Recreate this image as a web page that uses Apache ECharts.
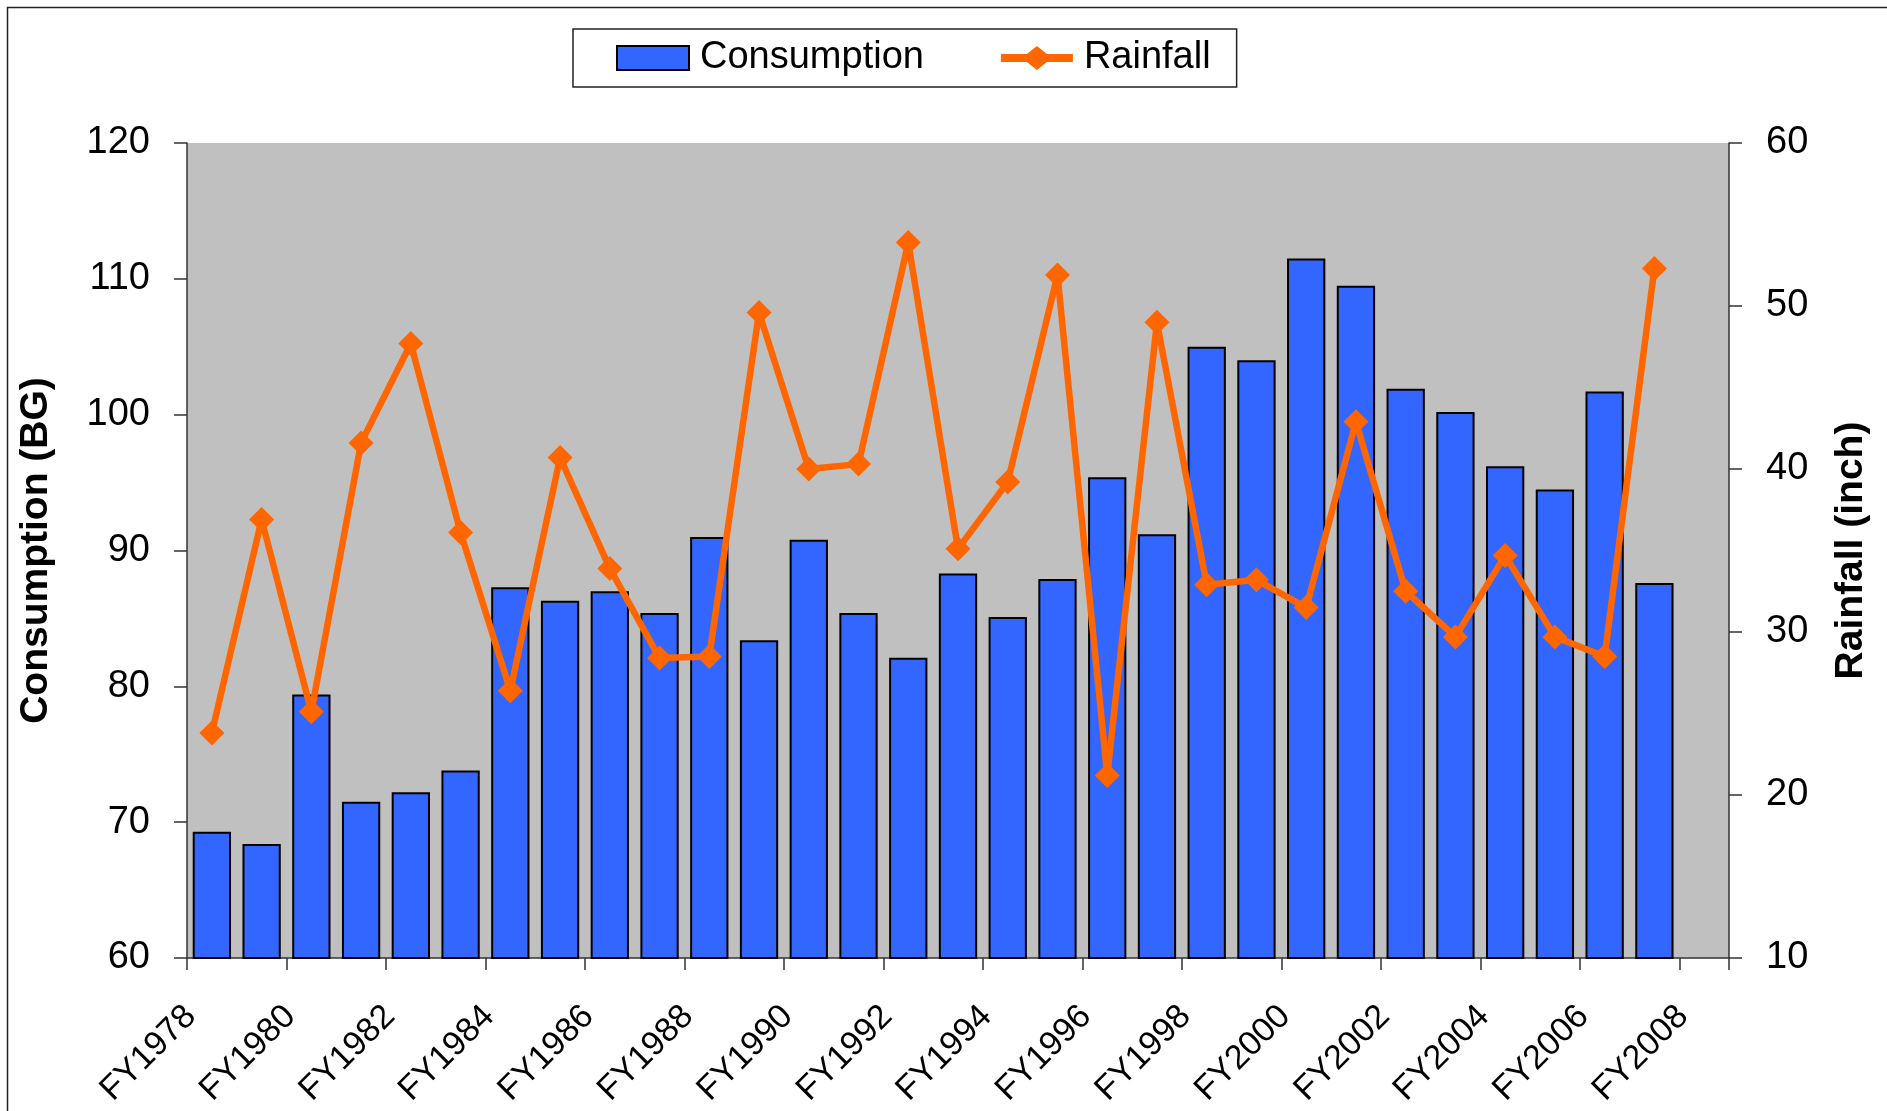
<!DOCTYPE html>
<html>
<head>
<meta charset="utf-8">
<script src="https://cdn.jsdelivr.net/npm/echarts@6/dist/echarts.min.js"></script>
<style>
  html, body { margin: 0; padding: 0; background: #fff; }
  #myChart { width: 1887px; height: 1111px; }
</style>
</head>
<body>
<div id="myChart"></div>
<script>
// fiscal years on the x axis (FY2008 slot is left empty in the original)
var years = ['FY1978', 'FY1979', 'FY1980', 'FY1981', 'FY1982', 'FY1983', 'FY1984', 'FY1985',
  'FY1986', 'FY1987', 'FY1988', 'FY1989', 'FY1990', 'FY1991', 'FY1992', 'FY1993', 'FY1994',
  'FY1995', 'FY1996', 'FY1997', 'FY1998', 'FY1999', 'FY2000', 'FY2001', 'FY2002', 'FY2003',
  'FY2004', 'FY2005', 'FY2006', 'FY2007', 'FY2008'];

// consumption, BG (left axis)
var consumption = [69.3, 68.4, 79.4, 71.5, 72.2, 73.8, 87.3, 86.3, 87.0, 85.4,
  91.0, 83.4, 90.8, 85.4, 82.1, 88.3, 85.1, 87.9, 95.4, 91.2,
  105.0, 104.0, 111.5, 109.5, 101.9, 100.2, 96.2, 94.5, 101.7, 87.6];

// rainfall, inch (right axis)
var rainfall = [23.8, 36.9, 25.1, 41.6, 47.7, 36.1, 26.4, 40.7, 33.9, 28.4,
  28.5, 49.6, 40.0, 40.3, 53.9, 35.1, 39.2, 51.9, 21.2, 49.0,
  32.9, 33.2, 31.5, 42.9, 32.5, 29.7, 34.7, 29.7, 28.5, 52.3];

var font = "'Liberation Sans', Arial, sans-serif";
var axisGray = '#333';
// legend marker for the rainfall line: thick stroke with a diamond in the middle
var lineDiamondIcon = 'path://M0,8 L26,8 L36,0 L46,8 L72,8 L72,16 L46,16 L36,24 L26,16 L0,16 Z';

var myChart = echarts.init(document.getElementById('myChart'));
var option = {
  animation: false,
  textStyle: { fontFamily: font },
  // outer chart frame (right/bottom edges fall outside the picture)
  graphic: [{
    type: 'rect',
    left: 5, top: 5,
    shape: { width: 2000, height: 2000 },
    style: { fill: 'none', stroke: '#222', lineWidth: 1.5 }
  }],
  legend: {
    left: 573,
    top: 29,
    padding: [10, 26, 10, 43],
    itemGap: 77,
    itemWidth: 72,
    itemHeight: 24,
    borderColor: '#222',
    borderWidth: 1.5,
    backgroundColor: '#fff',
    textStyle: { fontSize: 38, color: '#000', fontFamily: font, padding: [0, 0, 0, 6] },
    data: [
      { name: 'Consumption', icon: 'rect' },
      { name: 'Rainfall', icon: lineDiamondIcon, itemStyle: { color: '#FF6600' } }
    ]
  },
  grid: {
    left: 187,
    right: 158,
    top: 143,
    bottom: 153,
    show: true,
    backgroundColor: '#C0C0C0',
    borderWidth: 0,
    containLabel: false,
    outerBoundsMode: 'none'
  },
  xAxis: [{
    type: 'category',
    data: years,
    boundaryGap: true,
    axisLine: { show: true, lineStyle: { color: axisGray, width: 1.5 } },
    axisTick: { show: true, length: 12, lineStyle: { color: axisGray, width: 1.5 } },
    axisLabel: {
      interval: 1,
      rotate: 45,
      margin: 32,
      fontSize: 34,
      color: '#000',
      fontFamily: font,
      padding: [0, 30, 0, 0]
    },
    splitLine: { show: false }
  }],
  yAxis: [{
    type: 'value',
    name: 'Consumption (BG)',
    nameLocation: 'middle',
    nameGap: 131,
    nameRotate: 90,
    nameTextStyle: { fontSize: 39, fontWeight: 'bold', color: '#000', fontFamily: font },
    min: 60,
    max: 120,
    interval: 10,
    axisLine: { show: true, lineStyle: { color: axisGray, width: 1.5 } },
    axisTick: { show: true, length: 13, lineStyle: { color: axisGray, width: 1.5 } },
    axisLabel: { fontSize: 38, color: '#000', margin: 37, fontFamily: font },
    splitLine: { show: false }
  }, {
    type: 'value',
    name: 'Rainfall (inch)',
    nameLocation: 'middle',
    nameGap: 103,
    nameRotate: 90,
    nameTextStyle: { fontSize: 39, fontWeight: 'bold', color: '#000', fontFamily: font },
    position: 'right',
    min: 10,
    max: 60,
    interval: 10,
    axisLine: { show: true, lineStyle: { color: axisGray, width: 1.5 } },
    axisTick: { show: true, length: 13, lineStyle: { color: axisGray, width: 1.5 } },
    axisLabel: { fontSize: 38, color: '#000', margin: 37, fontFamily: font },
    splitLine: { show: false }
  }],
  series: [{
    name: 'Consumption',
    type: 'bar',
    yAxisIndex: 0,
    barWidth: '77%',
    itemStyle: { color: '#3366FF', borderColor: '#000', borderWidth: 2 },
    data: consumption
  }, {
    name: 'Rainfall',
    type: 'line',
    yAxisIndex: 1,
    symbol: 'diamond',
    symbolSize: 25,
    lineStyle: { color: '#FF6600', width: 6.5 },
    itemStyle: { color: '#FF6600' },
    z: 5,
    data: rainfall
  }]
};
myChart.setOption(option);
</script>
</body>
</html>
